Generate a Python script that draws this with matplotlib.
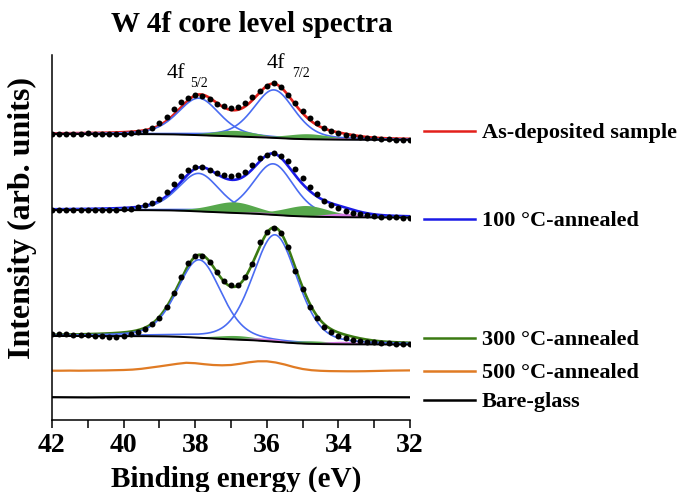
import numpy as np
import matplotlib
matplotlib.use("Agg")
import matplotlib.pyplot as plt
from matplotlib.lines import Line2D

plt.rcParams['font.family'] = ['Liberation Serif', 'DejaVu Serif']

# ---------------- data (intensity in arb. units, stacked offsets included) ----
be_points = np.round(np.linspace(42.0, 32.0, 51), 2)   # measured binding energies (eV)

asdep_data = [286, 286, 286, 286, 286.5, 287, 286, 286, 286, 286,
              286.3, 286.8, 287.8, 289.3, 292, 296.8, 303.5, 311.5, 318, 322.3,
              324.7, 324.5, 320.8, 316.5, 313.8, 312.3, 313.2, 317, 323.5, 329.5,
              334, 336.7, 332.8, 325, 316.6, 309, 302, 297.3, 292.5, 289.5,
              286.7, 285.2, 283.8, 282.8, 282.2, 281.6, 281.2, 280.8, 280.5, 280.2, 280]

ann100_data = [210, 210.3, 210.5, 210.2, 210, 209.8, 209.8, 210, 210, 210.3,
               210.8, 211.5, 212.8, 214.8, 217.5, 221.3, 228, 236, 244.5, 250,
               253, 253, 250.2, 247.3, 245, 244, 245, 248, 255, 262,
               265.5, 267.3, 264.5, 259.3, 251.5, 242.5, 233.5, 226, 219.5, 215,
               211.7, 209.3, 207.2, 205.8, 204.7, 204, 203.5, 203.1, 202.8, 202.5, 202.3]

ann300_data = [86, 86, 85.7, 85.5, 85.5, 85, 84.5, 84, 83.5, 83.5,
               84.5, 86, 88, 91, 96, 102.5, 113.5, 127, 143.5, 157,
               164, 164, 158.5, 148.5, 139.5, 135, 135.5, 143, 156, 178,
               188.3, 191.7, 187.5, 173, 149, 131, 113.3, 102, 93.5, 88.5,
               84.5, 82, 80.5, 79, 78.3, 77.8, 77.2, 76.7, 76.3, 76, 75.7]

be_500 = np.round(np.linspace(42.0, 32.0, 41), 2)
ann500_data = [49.3, 49.3, 49.4, 49.3, 49.4, 49.5, 49.6, 49.8, 50, 50.4,
               51.2, 52.4, 53.6, 54.9, 56.2, 57.2, 56.8, 55.8, 55, 54.7,
               55, 56.2, 57.7, 58.7, 58.7, 57.5, 55.5, 53, 51, 49.8,
               49.2, 48.9, 48.8, 48.7, 48.7, 48.8, 49, 49.2, 49.4, 49.5, 49.6]

be_glass = np.round(np.linspace(42.0, 32.0, 11), 2)
glass_data = [22.8, 22.6, 22.8, 22.7, 22.6, 22.7, 22.7, 22.6, 22.7, 22.8, 22.7]

# fitted components: centre (eV), height, FWHM (eV)
asdep_main = dict(c=[37.90, 35.80], a=[37, 48], w=[1.38, 1.36])
asdep_sub = dict(c=[36.90, 34.85], a=[6, 5.5], w=[1.5, 1.5])
asdep_min = dict(c=[36.0, 33.9], a=[1.5, 2.0], w=[1.2, 1.2])
asdep_bg = [286, 280.2]

ann100_main = dict(c=[37.90, 35.82], a=[38, 51], w=[1.38, 1.36])
ann100_sub = dict(c=[36.92, 34.88], a=[11, 11], w=[1.55, 1.55])
ann100_min = dict(c=[36.1, 33.9], a=[2, 4], w=[1.2, 1.2])
ann100_bg = [210, 202.5]

ann300_main = dict(c=[37.89, 35.77], a=[78, 107], w=[1.45, 1.48])
ann300_sub = dict(c=[36.85, 34.7], a=[4, 3], w=[1.5, 1.5])
ann300_min = dict(c=[36.0, 33.9], a=[3, 3], w=[1.3, 1.3])
ann300_bg = [84, 75.5]

labels = ['As-deposited sample', '100 °C-annealed', '300 °C-annealed',
          '500 °C-annealed', 'Bare-glass']
colors = ['#e3201b', '#1a1ae6', '#3b7a12', '#e07b24', '#000000']

BLUE = '#4a6cf2'
GREEN = '#57a84c'
MAG = '#d77be3'

# ---------------- figure -------------------------------------------------------
W, H = 681, 492
fig = plt.figure(figsize=(W / 100, H / 100), dpi=100)
ax = fig.add_axes([52 / W, 72 / H, 358 / W, 365 / H])
ax.set_xlim(42, 32)
ax.set_ylim(0, 365)

E = np.linspace(42, 32, 801)


def pv(x, c, a, w, eta):
    t = (x - c) / w
    return a * ((1 - eta) * np.exp(-4 * np.log(2) * t ** 2) + eta / (1 + 4 * t ** 2))


def draw_fit(main, sub, mino, bg, eta, env_color, data):
    comps_main = [pv(E, c, a, w, eta) for c, a, w in zip(main['c'], main['a'], main['w'])]
    comps_sub = [pv(E, c, a, w, eta) for c, a, w in zip(sub['c'], sub['a'], sub['w'])]
    comps_min = [pv(E, c, a, w, eta) for c, a, w in zip(mino['c'], mino['a'], mino['w'])]
    total = sum(comps_main) + sum(comps_sub) + sum(comps_min)
    # Shirley-type background
    cum = np.cumsum(total[::-1])[::-1]
    frac = cum / cum[0]
    base = bg[1] + (bg[0] - bg[1]) * frac
    ax.plot(E, base + total, color=env_color, lw=1.9, zorder=2)
    for comp in comps_main:
        ax.plot(E, base + comp, color=BLUE, lw=1.2, zorder=3)
    for comp in comps_sub:
        ax.fill_between(E, base, base + comp, color=GREEN, lw=0, zorder=4)
    for comp in comps_min:
        ax.fill_between(E, base, base + comp, color=MAG, lw=0, zorder=4)
    ax.plot(E, base, color='black', lw=1.4, zorder=5)
    ax.plot(be_points, data, 'o', color='black', ms=4.3, mew=0, zorder=6)


draw_fit(asdep_main, asdep_sub, asdep_min, asdep_bg, 0.35, colors[0], asdep_data)
draw_fit(ann100_main, ann100_sub, ann100_min, ann100_bg, 0.35, colors[1], ann100_data)
draw_fit(ann300_main, ann300_sub, ann300_min, ann300_bg, 0.3, colors[2], ann300_data)
ax.plot(be_500, ann500_data, color=colors[3], lw=1.6, zorder=2)
ax.plot(be_glass, glass_data, color=colors[4], lw=1.6, zorder=2)

# axes styling
for s in ['top', 'right']:
    ax.spines[s].set_visible(False)
for s in ['left', 'bottom']:
    ax.spines[s].set_linewidth(1.1)
ax.set_yticks([])
ax.set_xticks([42, 40, 38, 36, 34, 32])
ax.set_xticks([41, 39, 37, 35, 33], minor=True)
ax.tick_params(axis='x', which='both', direction='out', length=6, width=1.1)
ax.tick_params(axis='x', which='major', labelsize=20, pad=3)
for lab in ax.get_xticklabels():
    lab.set_fontweight('bold')


def ftext(x, y, s, **kw):
    return fig.text(x / W, 1 - y / H, s, **kw)


ftext(252, 24, 'W 4f core level spectra', ha='center', va='center',
      fontsize=21, fontweight='bold')
ftext(236, 487, 'Binding energy (eV)', ha='center', va='baseline',
      fontsize=21, fontweight='bold')
ftext(22, 218, 'Intensity (arb. units)', ha='center', va='center',
      rotation=90, fontsize=23, fontweight='bold')

# peak labels
ftext(167, 78, '4f', ha='left', va='baseline', fontsize=16)
ftext(190, 87, '5/2', ha='left', va='baseline', fontsize=10)
ftext(267, 68, '4f', ha='left', va='baseline', fontsize=16)
ftext(292, 77, '7/2', ha='left', va='baseline', fontsize=10)

# legend (placed beside each trace)
rows = [131, 219, 338, 371, 400]
for lab, col, ry in zip(labels, colors, rows):
    fig.add_artist(Line2D([424 / W, 475 / W], [1 - ry / H, 1 - ry / H],
                          color=col, lw=1.8, transform=fig.transFigure))
    ftext(482, ry + 7.3, lab, ha='left', va='baseline', fontsize=16,
          fontweight='bold')

fig.savefig('out.png', dpi=100)
